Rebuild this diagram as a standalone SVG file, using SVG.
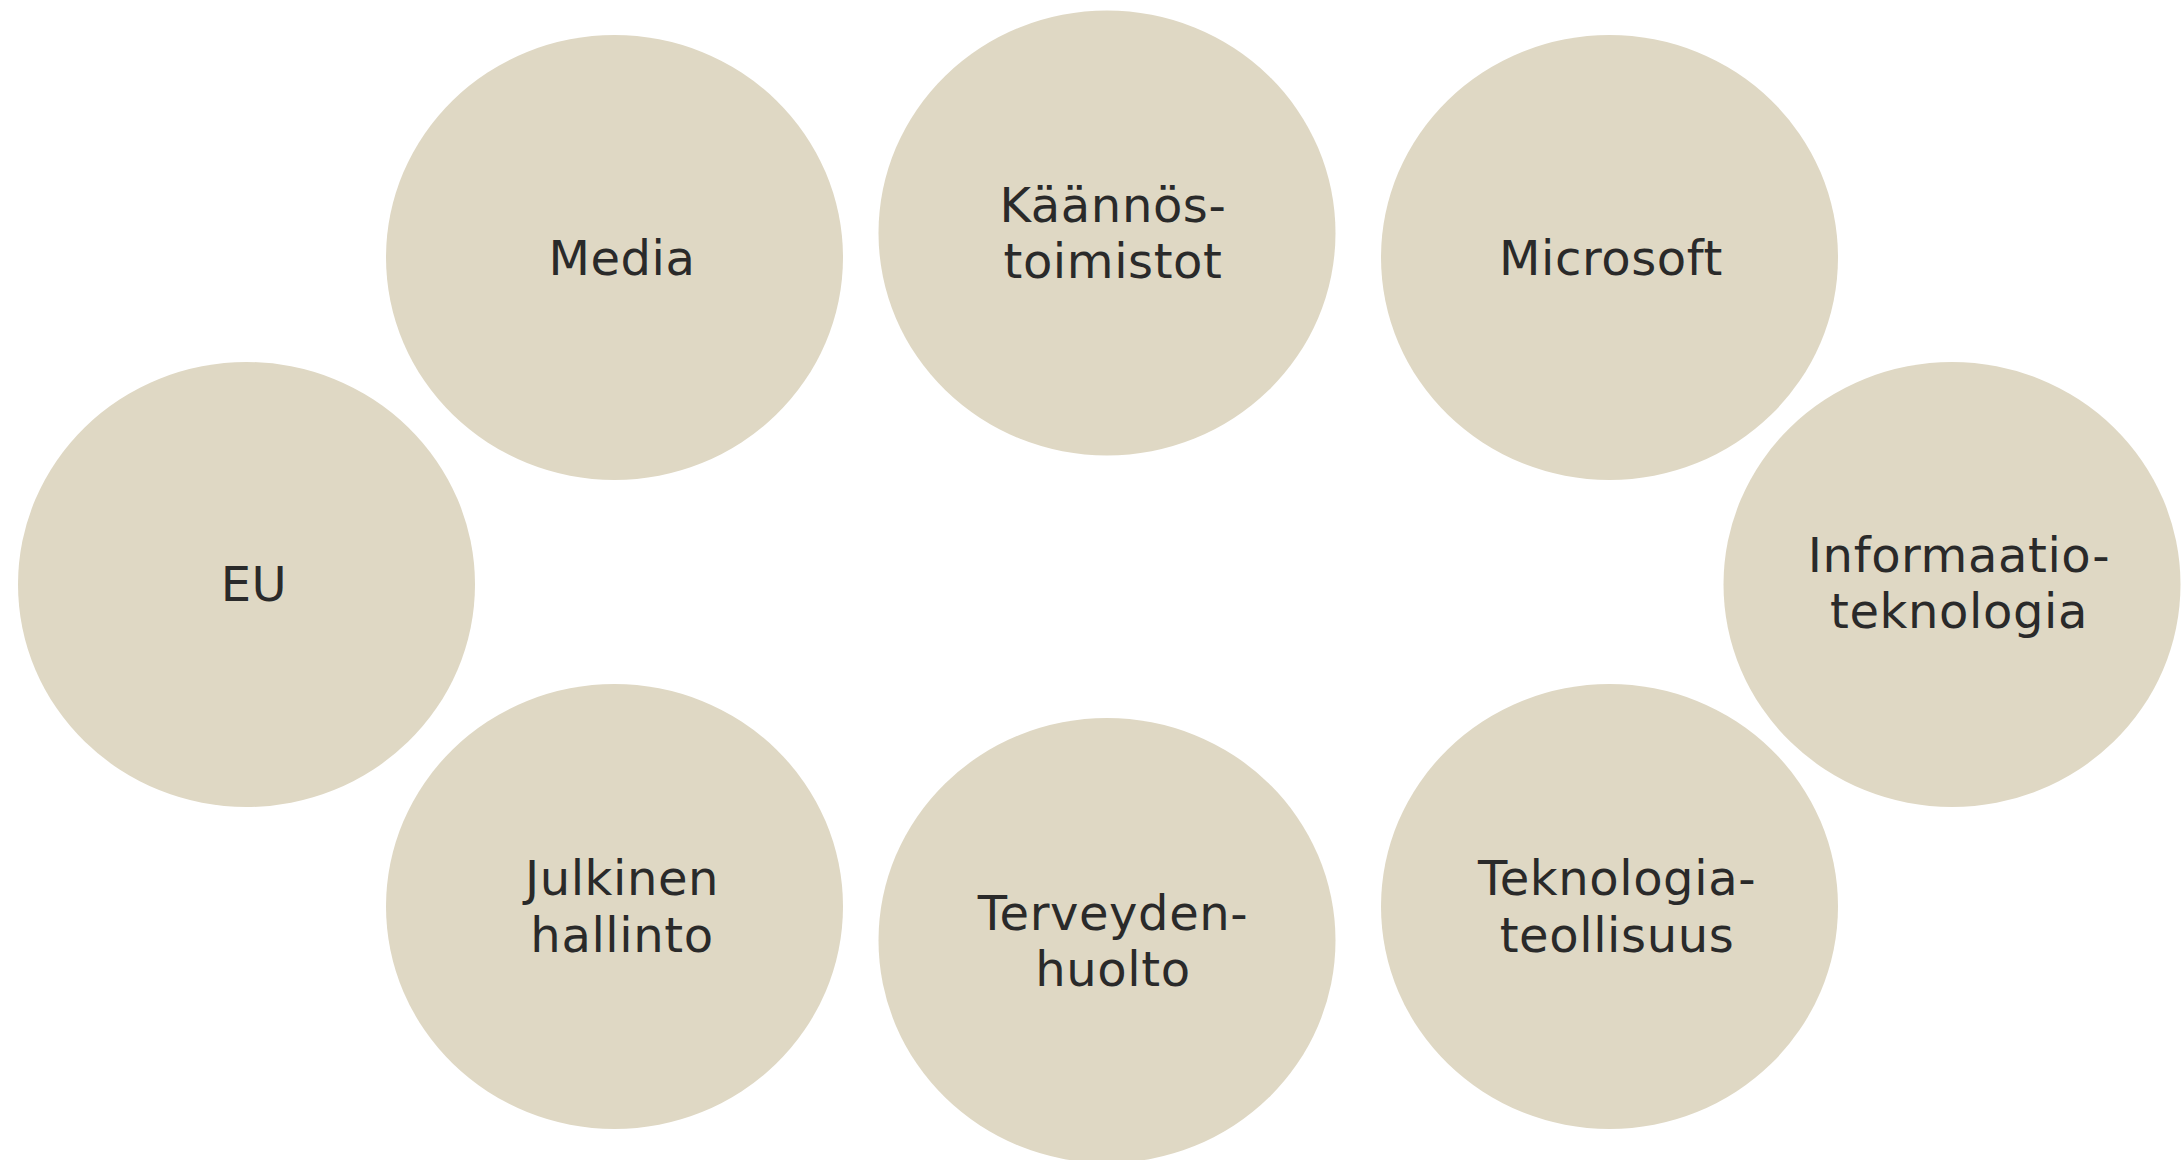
<svg xmlns="http://www.w3.org/2000/svg" width="2183" height="1160" viewBox="0 0 2183 1160">
  <style>
    .bubble { fill: #dfd8c4; }
    .label { font-family: "DejaVu Sans", Verdana, sans-serif; font-size: 48px; letter-spacing: 0.6px; fill: #2a2a2a; text-anchor: middle; }
  </style>
  <rect x="0" y="0" width="2183" height="1160" fill="#ffffff"/>

  <g id="node-media">
    <ellipse class="bubble" cx="614.5" cy="257.5" rx="228.5" ry="222.5"/>
    <text class="label" x="622" y="275">Media</text>
  </g>

  <g id="node-kaannostoimistot">
    <ellipse class="bubble" cx="1107" cy="233" rx="228.5" ry="222.5"/>
    <text class="label" x="1113" y="222">Käännös-</text>
    <text class="label" x="1113" y="278">toimistot</text>
  </g>

  <g id="node-microsoft">
    <ellipse class="bubble" cx="1609.5" cy="257.5" rx="228.5" ry="222.5"/>
    <text class="label" x="1611" y="275">Microsoft</text>
  </g>

  <g id="node-eu">
    <ellipse class="bubble" cx="246.5" cy="584.5" rx="228.5" ry="222.5"/>
    <text class="label" x="254" y="601">EU</text>
  </g>

  <g id="node-informaatioteknologia">
    <ellipse class="bubble" cx="1952" cy="584.5" rx="228.5" ry="222.5"/>
    <text class="label" x="1959" y="572">Informaatio-</text>
    <text class="label" x="1959" y="628">teknologia</text>
  </g>

  <g id="node-julkinen-hallinto">
    <ellipse class="bubble" cx="614.5" cy="906.5" rx="228.5" ry="222.5"/>
    <text class="label" x="622" y="895">Julkinen</text>
    <text class="label" x="622" y="952">hallinto</text>
  </g>

  <g id="node-terveydenhuolto">
    <ellipse class="bubble" cx="1107" cy="940.5" rx="228.5" ry="222.5"/>
    <text class="label" x="1113" y="930">Terveyden-</text>
    <text class="label" x="1113" y="986">huolto</text>
  </g>

  <g id="node-teknologiateollisuus">
    <ellipse class="bubble" cx="1609.5" cy="906.5" rx="228.5" ry="222.5"/>
    <text class="label" x="1617" y="895">Teknologia-</text>
    <text class="label" x="1617" y="952">teollisuus</text>
  </g>
</svg>
